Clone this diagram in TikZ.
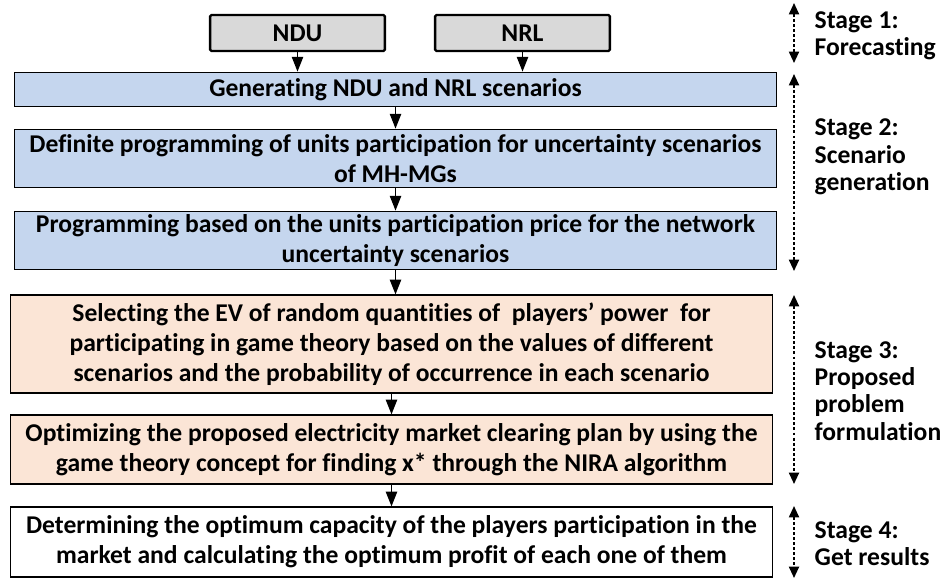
\documentclass[tikz,border=0pt]{standalone}
\usepackage{fontspec}
\setmainfont{Carlito}[Ligatures=NoCommon]
\usetikzlibrary{arrows.meta}

\definecolor{boxblue}{RGB}{197,214,238}
\definecolor{boxorange}{RGB}{251,229,214}
\definecolor{boxgrey}{RGB}{217,217,217}

\begin{document}
\begin{tikzpicture}[x=0.75pt, y=-0.75pt,
    every node/.style={font=\fontsize{19.2}{22.5}\selectfont\bfseries},
    mainbox/.style={draw, line width=0.9pt, align=center, minimum width=572pt, inner sep=0pt},
    inbox/.style={draw, line width=1.8pt, fill=boxgrey, rounded corners=1pt, minimum width=131pt, minimum height=27pt},
    flow/.style={-{Triangle[length=11pt,width=8.5pt]}, line width=0.9pt},
    span/.style={{Triangle[length=8.5pt,width=7.5pt]}-{Triangle[length=8.5pt,width=7.5pt]}, line width=1.4pt, dash pattern=on 2.2pt off 1.6pt},
    stage/.style={anchor=west, align=left, font=\fontsize{19.2}{20.5}\selectfont\bfseries}]
    \useasboundingbox (0,0) rectangle (948,579);

    % Inputs
    \node[inbox] (ndu) at (297.5,33) {NDU};
    \node[inbox] (nrl) at (522.5,33) {NRL};

    % Stage 2 boxes
    \node[mainbox, fill=boxblue, minimum height=26pt] (gen) at (395.5,89.5) {Generating NDU and NRL scenarios};
    \node[mainbox, fill=boxblue, minimum height=44pt] (def) at (395.5,158.5) {Definite programming of units participation for uncertainty scenarios\\of MH-MGs};
    \node[mainbox, fill=boxblue, minimum height=44pt] (prog) at (395.5,240.5) {Programming based on the units participation price for the network\\uncertainty scenarios};

    % Stage 3 boxes
    \node[mainbox, fill=boxorange, minimum height=73.5pt] (sel) at (391.5,344) {Selecting the EV of random quantities of \ players’ power \ for\\participating in game theory based on the values of different\\scenarios and the probability of occurrence in each scenario};
    \node[mainbox, fill=boxorange, minimum height=51.75pt] (opt) at (391.5,449.5) {Optimizing the proposed electricity market clearing plan by using the\\game theory concept for finding x* through the NIRA algorithm};

    % Stage 4 box
    \node[mainbox, fill=white, minimum height=52.5pt] (res) at (391.5,542) {Determining the optimum capacity of the players participation in the\\market and calculating the optimum profit of each one of them};

    % Flow
    \draw[flow] (ndu) -- (ndu |- gen.north);
    \draw[flow] (nrl) -- (nrl |- gen.north);
    \draw[flow] (gen) -- (def);
    \draw[flow] (def) -- (prog);
    \draw[flow] (prog.south) -- (prog.south |- sel.north);
    \draw[flow] (sel) -- (opt);
    \draw[flow] (opt) -- (res);

    % Stage spans
    \coordinate (s1a) at (794,3);   \coordinate (s1b) at (794,63);
    \coordinate (s2a) at (794,74);  \coordinate (s2b) at (794,271);
    \coordinate (s3a) at (794,295); \coordinate (s3b) at (794,484);
    \coordinate (s4a) at (794,506); \coordinate (s4b) at (794,578);
    \draw[span] (s1a) -- (s1b);
    \draw[span] (s2a) -- (s2b);
    \draw[span] (s3a) -- (s3b);
    \draw[span] (s4a) -- (s4b);

    % Stage labels
    \node[stage] (st1) at (810,36) {Stage 1:\\Forecasting};
    \node[stage] (st2) at (810,157) {Stage 2:\\Scenario\\generation};
    \node[stage] (st3) at (810,391) {Stage 3:\\Proposed\\problem\\formulation};
    \node[stage] (st4) at (810,544) {Stage 4:\\Get results};
\end{tikzpicture}
\end{document}
